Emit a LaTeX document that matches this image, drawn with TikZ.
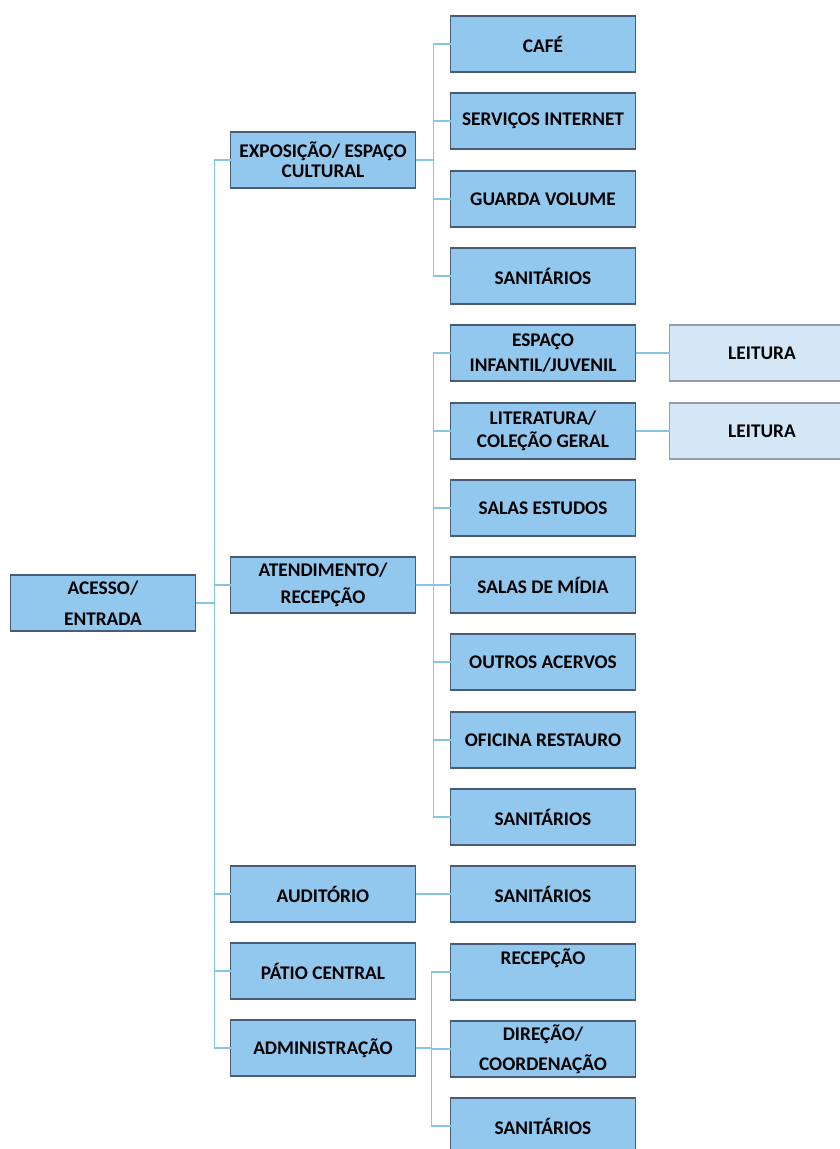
\documentclass[tikz,border=0pt]{standalone}
\usepackage{fontspec}
\setmainfont{Carlito}
\definecolor{boxfill}{RGB}{146,200,238}
\definecolor{boxline}{RGB}{72,92,120}
\definecolor{leitfill}{RGB}{212,231,247}
\definecolor{leitline}{RGB}{150,155,175}
\definecolor{linkblue}{RGB}{135,196,232}

\begin{document}
\begin{tikzpicture}[x=0.75pt,y=-0.75pt,
	box/.style={draw=boxline,fill=boxfill,line width=0.9pt,inner sep=0,outer sep=0,minimum width=138.75pt,minimum height=42pt,align=center,font=\fontsize{14.5}{15}\selectfont\bfseries},
	leit/.style={box,draw=leitline,fill=leitfill},
	link/.style={draw=linkblue,line width=0.9pt}]
	\useasboundingbox (0,0) rectangle (839,1149);
	% raiz e primeiro nivel
	\node[box] (acesso) at (103,603) {ACESSO/\\[8pt]ENTRADA};
	\node[box] (expo) at (323,160) {EXPOSIÇÃO/ ESPAÇO\\CULTURAL};
	\node[box] (atend) at (323,585) {ATENDIMENTO/\\[5pt]RECEPÇÃO};
	\node[box] (aud) at (323,894) {AUDITÓRIO};
	\node[box] (patio) at (323,971) {PÁTIO CENTRAL};
	\node[box] (adm) at (323,1048) {ADMINISTRAÇÃO};
	% segundo nivel
	\node[box] (cafe) at (543,44) {CAFÉ};
	\node[box] (internet) at (543,121) {SERVIÇOS INTERNET};
	\node[box] (guarda) at (543,199) {GUARDA VOLUME};
	\node[box] (sanexpo) at (543,276) {SANITÁRIOS};
	\node[box] (infantil) at (543,353) {ESPAÇO\\[4pt]INFANTIL/JUVENIL};
	\node[box] (literatura) at (543,431) {LITERATURA/\\[2pt]COLEÇÃO GERAL};
	\node[box] (estudos) at (543,508) {SALAS ESTUDOS};
	\node[box] (midia) at (543,585) {SALAS DE MÍDIA};
	\node[box] (acervos) at (543,662) {OUTROS ACERVOS};
	\node[box] (oficina) at (543,740) {OFICINA RESTAURO};
	\node[box] (sanatend) at (543,817) {SANITÁRIOS};
	\node[box] (sanaud) at (543,894) {SANITÁRIOS};
	\node[box] (recep) at (543,972) {RECEPÇÃO\\[7.5pt]\mbox{}};
	\node[box] (direcao) at (543,1049) {DIREÇÃO/\\[7.5pt]COORDENAÇÃO};
	\node[box] (sanadm) at (543,1126) {SANITÁRIOS};
	% terceiro nivel
	\node[leit] (leit1) at (762,353) {LEITURA};
	\node[leit] (leit2) at (762,431) {LEITURA};
	% ligacoes
	\foreach \n in {expo,atend,aud,patio,adm}
		\draw[link] (acesso.east) -- ++(19,0) |- (\n.west);
	\foreach \n in {cafe,internet,guarda,sanexpo}
		\draw[link] (expo.east) -- ++(18,0) |- (\n.west);
	\foreach \n in {infantil,literatura,estudos,midia,acervos,oficina,sanatend}
		\draw[link] (atend.east) -- ++(18,0) |- (\n.west);
	\foreach \n in {recep,direcao,sanadm}
		\draw[link] (adm.east) -- ++(16,0) |- (\n.west);
	\draw[link] (aud.east) -- (sanaud.west);
	\draw[link] (infantil.east) -- (leit1.west);
	\draw[link] (literatura.east) -- (leit2.west);
\end{tikzpicture}
\end{document}
